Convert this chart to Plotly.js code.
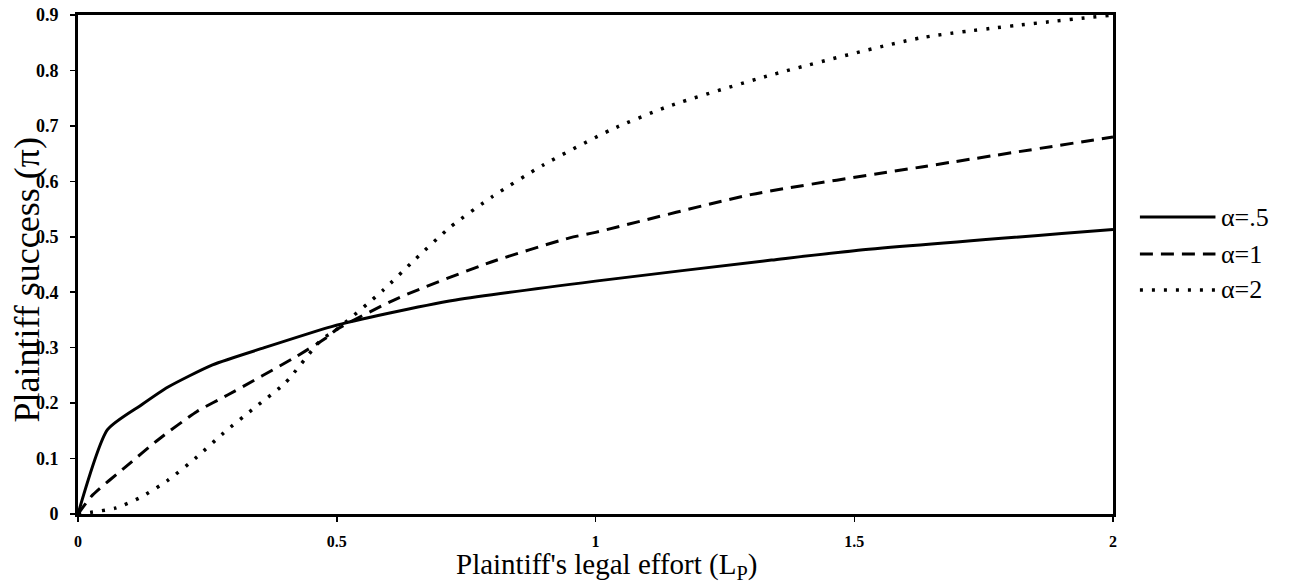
<!DOCTYPE html>
<html>
<head>
<meta charset="utf-8">
<script src="https://cdn.plot.ly/plotly-3.0.1.min.js"></script>
<style>
html,body{margin:0;padding:0;background:#fff;}
#chart{width:1315px;height:585px;}
</style>
</head>
<body>
<div id="chart"></div>
<script>
// Data
var seriesNames = ["α=.5", "α=1", "α=2"];

var xHalf = [0, 0.057, 0.123, 0.174, 0.26, 0.36, 0.49, 0.6, 0.73, 1.0, 1.34, 1.5, 2.0];
var yHalf = [0, 0.152, 0.197, 0.229, 0.269, 0.30, 0.338, 0.362, 0.386, 0.42, 0.458, 0.475, 0.513];

var xOne = [0, 0.028, 0.092, 0.155, 0.23, 0.29, 0.42, 0.48, 0.5, 0.62, 0.8, 0.95, 1.0, 1.3, 1.63, 2.0];
var yOne = [0, 0.034, 0.085, 0.134, 0.185, 0.215, 0.283, 0.318, 0.333, 0.39, 0.455, 0.498, 0.508, 0.576, 0.626, 0.68];

var xTwo = [0, 0.074, 0.123, 0.174, 0.23, 0.281, 0.343, 0.4, 0.47, 0.5, 0.59, 0.65, 0.72, 0.8, 0.9, 1.03, 1.14, 1.34, 1.63, 2.0];
var yTwo = [0, 0.011, 0.031, 0.061, 0.103, 0.146, 0.193, 0.236, 0.314, 0.333, 0.404, 0.458, 0.518, 0.572, 0.63, 0.693, 0.735, 0.792, 0.859, 0.9];

var xTickVals = [0, 0.5, 1, 1.5, 2];
var xTickText = ["0", "0.5", "1", "1.5", "2"];
var yTickVals = [0, 0.1, 0.2, 0.3, 0.4, 0.5, 0.6, 0.7, 0.8, 0.9];
var yTickText = ["0", "0.1", "0.2", "0.3", "0.4", "0.5", "0.6", "0.7", "0.8", "0.9"];

var xTitle = "Plaintiff's legal effort (L<sub>P</sub>)";
var yTitle = "Plaintiff success (π)";

var dashes = ["solid", "13px,8px", "3px,9px"];
var widths = [3, 3, 3.5];

var xs = [xHalf, xOne, xTwo];
var ys = [yHalf, yOne, yTwo];

var traces = xs.map(function (x, i) {
  return {
    x: x, y: ys[i], type: "scatter", mode: "lines", name: seriesNames[i],
    line: {color: "#000", width: widths[i], dash: dashes[i], shape: "spline", smoothing: 0.6},
    showlegend: false, hoverinfo: "skip"
  };
});

var serif = "Liberation Serif, Times New Roman, serif";

// manual legend (long line samples like the reference)
var legShapes = [], legAnn = [];
var legY = [0.595, 0.521, 0.449];
seriesNames.forEach(function (n, i) {
  legShapes.push({type: "line", xref: "paper", yref: "paper",
    x0: 1.026, x1: 1.099, y0: legY[i], y1: legY[i],
    line: {color: "#000", width: widths[i], dash: dashes[i]}});
  legAnn.push({xref: "paper", yref: "paper", x: 1.102, y: legY[i], xanchor: "left", yanchor: "middle",
    text: n, showarrow: false, font: {family: serif, size: 26, color: "#000"}});
});

var layout = {
  width: 1315, height: 585,
  margin: {l: 78, r: 202, t: 15, b: 71},
  paper_bgcolor: "#fff", plot_bgcolor: "#fff",
  showlegend: false,
  xaxis: {
    range: [0, 2], tickvals: xTickVals, ticktext: xTickText,
    showgrid: false, zeroline: false, showline: true, mirror: true,
    linecolor: "#000", linewidth: 3,
    ticks: "outside", ticklen: 5, tickwidth: 1.5, tickcolor: "#000",
    ticklabelstandoff: 6,
    tickfont: {family: serif, size: 16, color: "#000", weight: "bold"}
  },
  yaxis: {
    range: [0, 0.9], tickvals: yTickVals, ticktext: yTickText,
    showgrid: false, zeroline: false, showline: true, mirror: true,
    linecolor: "#000", linewidth: 3,
    ticks: "outside", ticklen: 5, tickwidth: 1.5, tickcolor: "#000",
    ticklabelstandoff: 8,
    tickfont: {family: serif, size: 18, color: "#000", weight: "bold"}
  },
  shapes: legShapes,
  annotations: legAnn.concat([
    {xref: "paper", yref: "paper", x: 0.5, y: 0, yanchor: "middle", xanchor: "center",
     yshift: -52, xshift: 11, text: xTitle, showarrow: false,
     font: {family: serif, size: 29, color: "#000"}},
    {xref: "paper", yref: "paper", x: 0, y: 0.5, xanchor: "center", yanchor: "middle",
     xshift: -52, yshift: -16, textangle: -90, text: yTitle, showarrow: false,
     font: {family: serif, size: 36, color: "#000"}}
  ])
};

Plotly.newPlot("chart", traces, layout, {displayModeBar: false, staticPlot: true});
</script>
</body>
</html>
